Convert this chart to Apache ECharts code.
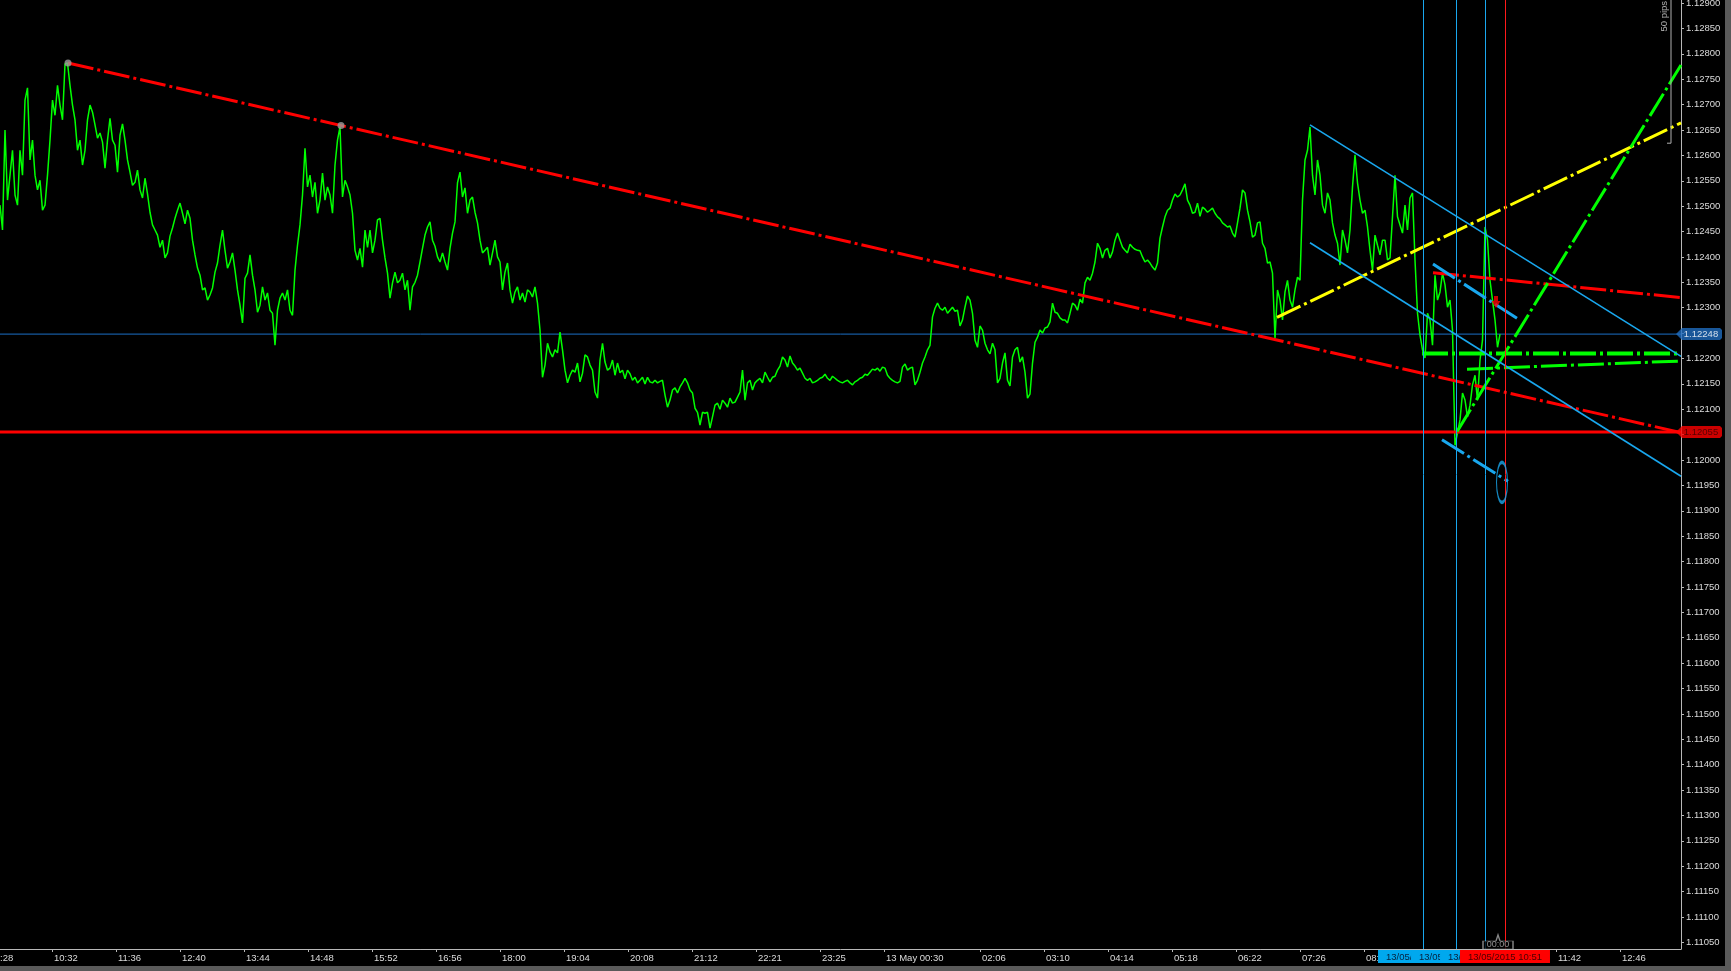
<!DOCTYPE html>
<html><head><meta charset="utf-8">
<script src="https://cdn.jsdelivr.net/npm/echarts@6/dist/echarts.min.js"></script>
<style>
html,body{margin:0;padding:0;background:#5a5a5a;width:1731px;height:971px;overflow:hidden}
#c{position:absolute;left:0;top:0;width:1725px;height:966px;background:#000}
</style></head><body><div id="c"></div>
<script>
// ---- data (bar index ~ 1 minute per bar, EURUSD close) ----
const sampleStep = 5;          // bars between samples in closeA
// closes read at bars 0,5,10,...,1500
const closeA = [
1.12502,1.12650,1.12561,1.12522,1.12610,1.12709,1.12591,1.12561,1.12551,1.12502,
1.12630,1.12679,1.12699,1.12780,1.12738,1.12670,1.12630,1.12610,1.12699,1.12660,
1.12644,1.12575,1.12673,1.12620,1.12640,1.12630,1.12567,1.12547,1.12532,1.12555,
1.12488,1.12453,1.12419,1.12398,1.12441,1.12476,1.12506,1.12465,1.12476,1.12404,
1.12364,1.12339,1.12325,1.12370,1.12423,1.12413,1.12390,1.12374,1.12305,1.12358,
1.12404,1.12335,1.12305,1.12315,1.12295,1.12226,1.12319,1.12315,1.12295,1.12374,
1.12463,1.12614,1.12561,1.12547,1.12512,1.12512,1.12522,1.12581,1.12656,1.12551,
1.12522,1.12413,1.12417,1.12453,1.12453,1.12433,1.12476,1.12398,1.12319,1.12370,
1.12354,1.12335,1.12295,1.12350,1.12390,1.12443,1.12469,1.12421,1.12390,1.12390,
1.12417,1.12469,1.12567,1.12536,1.12512,1.12488,1.12433,1.12413,1.12384,1.12433,
1.12390,1.12370,1.12335,1.12331,1.12315,1.12311,1.12331,1.12341,1.12256,1.12187,
1.12213,1.12217,1.12252,1.12177,1.12167,1.12173,1.12154,1.12207,1.12187,1.12134,
1.12197,1.12193,1.12181,1.12167,1.12172,1.12160,1.12170,1.12163,1.12157,1.12150,
1.12154,1.12157,1.12155,1.12128,1.12118,1.12142,1.12144,1.12161,1.12138,1.12102,
1.12069,1.12092,1.12063,1.12108,1.12100,1.12112,1.12122,1.12114,1.12134,1.12118,
1.12157,1.12152,1.12161,1.12173,1.12154,1.12165,1.12185,1.12197,1.12205,1.12185,
1.12181,1.12161,1.12161,1.12154,1.12161,1.12169,1.12157,1.12161,1.12154,1.12155,
1.12152,1.12154,1.12161,1.12169,1.12173,1.12177,1.12175,1.12181,1.12161,1.12154,
1.12155,1.12189,1.12181,1.12148,1.12173,1.12203,1.12226,1.12299,1.12299,1.12301,
1.12295,1.12293,1.12264,1.12301,1.12315,1.12236,1.12264,1.12230,1.12209,1.12217,
1.12161,1.12211,1.12146,1.12217,1.12193,1.12173,1.12130,1.12232,1.12256,1.12260,
1.12272,1.12291,1.12280,1.12276,1.12289,1.12305,1.12317,1.12349,1.12354,1.12390,
1.12417,1.12413,1.12398,1.12433,1.12433,1.12413,1.12425,1.12415,1.12412,1.12390,
1.12388,1.12374,1.12437,1.12479,1.12496,1.12524,1.12522,1.12544,1.12502,1.12488,
1.12480,1.12494,1.12492,1.12486,1.12475,1.12463,1.12461,1.12439,1.12496,1.12526,
1.12469,1.12443,1.12469,1.12417,1.12390,1.12240,1.12315,1.12331,1.12315,1.12335,
1.12354,1.12591,1.12656,1.12522,1.12561,1.12486,1.12512,1.12443,1.12384,1.12433,
1.12453,1.12601,1.12512,1.12492,1.12413,1.12443,1.12404,1.12433,1.12398,1.12561,
1.12463,1.12502,1.12516,1.12394,1.12246,1.12201,1.12276,1.12364,1.12331,1.12345,
1.12315,1.12029,1.12079,1.12118,1.12108,1.12167,1.12197,1.12459,1.12354,1.12276,
1.12248
];
// closes read half-way between them (bars 2.5, 7.5, ...)
const closeB = [
1.12453,1.12512,1.12610,1.12502,1.12561,1.12733,1.12630,1.12532,1.12492,1.12561,
1.12709,1.12738,1.12670,1.12782,1.12699,1.12610,1.12581,1.12670,1.12685,1.12634,
1.12626,1.12630,1.12630,1.12567,1.12662,1.12591,1.12541,1.12571,1.12516,1.12524,
1.12463,1.12443,1.12433,1.12408,1.12457,1.12492,1.12486,1.12492,1.12433,1.12378,
1.12335,1.12315,1.12339,1.12388,1.12453,1.12378,1.12408,1.12335,1.12270,1.12368,
1.12364,1.12291,1.12341,1.12329,1.12289,1.12295,1.12329,1.12335,1.12285,1.12423,
1.12522,1.12538,1.12518,1.12486,1.12565,1.12538,1.12486,1.12630,1.12518,1.12538,
1.12486,1.12394,1.12380,1.12419,1.12408,1.12473,1.12433,1.12368,1.12349,1.12349,
1.12368,1.12354,1.12341,1.12364,1.12417,1.12459,1.12433,1.12400,1.12408,1.12374,
1.12447,1.12546,1.12518,1.12486,1.12518,1.12467,1.12408,1.12419,1.12408,1.12400,
1.12335,1.12388,1.12309,1.12341,1.12329,1.12335,1.12321,1.12309,1.12163,1.12230,
1.12203,1.12211,1.12217,1.12152,1.12177,1.12191,1.12171,1.12203,1.12177,1.12122,
1.12230,1.12177,1.12197,1.12191,1.12177,1.12177,1.12157,1.12152,1.12163,1.12163,
1.12152,1.12152,1.12157,1.12104,1.12138,1.12132,1.12152,1.12152,1.12132,1.12094,
1.12094,1.12094,1.12085,1.12112,1.12118,1.12104,1.12112,1.12124,1.12177,1.12152,
1.12138,1.12157,1.12152,1.12163,1.12163,1.12177,1.12203,1.12183,1.12191,1.12177,
1.12171,1.12157,1.12152,1.12157,1.12163,1.12161,1.12165,1.12157,1.12152,1.12157,
1.12148,1.12157,1.12163,1.12167,1.12179,1.12181,1.12183,1.12167,1.12157,1.12152,
1.12183,1.12177,1.12183,1.12157,1.12191,1.12217,1.12282,1.12309,1.12295,1.12289,
1.12301,1.12295,1.12276,1.12323,1.12289,1.12222,1.12256,1.12217,1.12230,1.12152,
1.12191,1.12157,1.12203,1.12222,1.12203,1.12122,1.12191,1.12242,1.12250,1.12262,
1.12309,1.12289,1.12276,1.12270,1.12309,1.12295,1.12309,1.12360,1.12368,1.12427,
1.12398,1.12417,1.12410,1.12447,1.12419,1.12408,1.12419,1.12413,1.12400,1.12394,
1.12380,1.12388,1.12459,1.12492,1.12512,1.12518,1.12532,1.12512,1.12486,1.12506,
1.12498,1.12488,1.12496,1.12479,1.12467,1.12459,1.12447,1.12467,1.12532,1.12492,
1.12439,1.12467,1.12427,1.12388,1.12368,1.12335,1.12276,1.12354,1.12301,1.12360,
1.12512,1.12610,1.12561,1.12591,1.12502,1.12526,1.12467,1.12427,1.12453,1.12408,
1.12538,1.12546,1.12486,1.12459,1.12374,1.12423,1.12433,1.12394,1.12479,1.12479,
1.12447,1.12453,1.12526,1.12289,1.12217,1.12289,1.12226,1.12315,1.12368,1.12301,
1.12256,1.12053,1.12132,1.12085,1.12148,1.12118,1.12236,1.12433,1.12315,1.12222
];

const xTickBars = [52,116,180,244,308,372,436,500,564,628,692,756,820,884,980,1044,1108,1172,1236,1300,1364,1428,1492,1556,1620];
const xTickLabels = ['10:32','11:36','12:40','13:44','14:48','15:52','16:56','18:00','19:04','20:08','21:12','22:21','23:25','13 May 00:30','02:06','03:10','04:14','05:18','06:22','07:26','08:30','09:34','10:38','11:42','12:46'];

const yTickValues = [1.1105,1.1110,1.1115,1.1120,1.1125,1.1130,1.1135,1.1140,1.1145,1.1150,1.1155,1.1160,1.1165,1.1170,1.1175,1.1180,1.1185,1.1190,1.1195,1.1200,1.1205,1.1210,1.1215,1.1220,1.1225,1.1230,1.1235,1.1240,1.1245,1.1250,1.1255,1.1260,1.1265,1.1270,1.1275,1.1280,1.1285,1.1290];
const yLabelValues = yTickValues.filter(v => v !== 1.1205 && v !== 1.1225);

const xMax = 1681;
const yMin = 1.11037, yMax = 1.12906;

const bidPrice = 1.12248;
const supportLevel = 1.12055;

const redTrendLong = [[68,1.12782],[1681,1.12054]];
const redTrendAnchors = [[68,1.12782],[341,1.12659]];
const redTrendShort = [[1433,1.12369],[1681,1.12320]];
const yellowTrend = [[1277,1.12281],[1681,1.12664]];
const greenSteep = [[1457,1.12056],[1681,1.12778]];
const greenFlat = [[1422,1.12210],[1681,1.12210]];
const greenRising = [[1467,1.12179],[1681,1.12195]];
const channelUpper = [[1310,1.12660],[1681,1.12204]];
const channelLower = [[1310,1.12428],[1681,1.11968]];
const blueShortUpper = [[1433,1.12386],[1517,1.12279]];
const blueShortLower = [[1442,1.12040],[1508,1.11958]];
const ellipseMark = [[1502,1.11956]];
const sellArrow = [[1496,1.12311]];
const pipsRuler = [[1667,1.12624],[1671,1.12624],[1671,1.13124]];
const pipsRulerText = [[1664,1.12874]];
const shiftMarker = [[1498,1.11037]];

const vLinesBlue = [{bar:1423,label:'13/05/2015 09:28'},{bar:1456,label:'13/05/2015 10:01'},{bar:1485,label:'13/05/2015 10:30'}];
const vLineRed = {bar:1505,label:'13/05/2015 10:51'};

// ---- build close series ----
const closeSeries = [];
closeA.forEach((v,i)=>{
  closeSeries.push([i*sampleStep, v]);
  if (i < closeB.length) closeSeries.push([i*sampleStep + sampleStep/2, closeB[i]]);
});

// ---- styles ----
const FONT = "'Liberation Sans',Arial,sans-serif";
const FS = 9.5;
const AX = '#b8b8b8', TXT = '#dcdcdc';
const DASHDOT = [26,4,3,4];
const SKY = '#19a7ee';

function seg(name, data, color, width, type, z){
  return {type:'line', name, data, symbol:'none', silent:true, z: z||3,
    lineStyle:{color, width, type: type||'solid', cap:'butt'}, emphasis:{disabled:true}};
}
const labelMap = new Map(xTickBars.map((b,i)=>[b, xTickLabels[i]]));

const chart = echarts.init(document.getElementById('c'), null, {renderer:'canvas'});
chart.setOption({
  backgroundColor:'#000',
  animation:false,
  grid:{left:0, right:44, top:0, bottom:17, containLabel:false, outerBoundsMode:'none'},
  xAxis:{type:'value', min:0, max:xMax, position:'bottom',
    axisLine:{show:true,onZero:false,lineStyle:{color:AX,width:1}},
    axisTick:{show:true,customValues:xTickBars,length:3,lineStyle:{color:AX}},
    axisLabel:{show:true,customValues:xTickBars,formatter:v=>labelMap.get(v)||'',align:'left',margin:4,
      padding:[0,0,0,2],color:TXT,fontSize:FS,fontFamily:FONT},
    splitLine:{show:false}},
  yAxis:{type:'value', position:'right', min:yMin, max:yMax,
    axisLine:{show:true,onZero:false,lineStyle:{color:AX,width:1}},
    axisTick:{show:true,customValues:yTickValues,length:3,lineStyle:{color:AX}},
    axisLabel:{show:true,customValues:yLabelValues,formatter:v=>v.toFixed(5),margin:5,color:TXT,fontSize:FS,fontFamily:FONT},
    splitLine:{show:false}},
  graphic:[{type:'text',left:0,top:953,style:{text:':28',fill:TXT,font:FS+"px "+FONT}}],
  series:[
    {type:'line', name:'vblue', data:[], z:1, silent:true,
      markLine:{symbol:'none', silent:true, animation:false,
        lineStyle:{color:SKY,width:1,type:'solid'},
        label:{show:true,position:'start',distance:1,color:'#06213d',backgroundColor:'#00a8ee',
          padding:[2,8,1,8],fontSize:FS,fontFamily:FONT},
        data:vLinesBlue.map(d=>({xAxis:d.bar,label:{formatter:d.label}}))}},
    seg('bid', [[0,bidPrice],[xMax,bidPrice]], '#1b6fc6', 1, 'solid', 1),
    {type:'line', name:'EURUSD', data:closeSeries, symbol:'none', z:2, silent:true,
      lineStyle:{color:'#00ff00', width:1.5}},
    seg('support', [[0,supportLevel],[xMax,supportLevel]], '#ff0000', 3, 'solid', 3),
    {type:'line', name:'vred', data:[], z:4, silent:true,
      markLine:{symbol:'none', silent:true, animation:false,
        lineStyle:{color:'#ff1a1a',width:1,type:'solid'},
        label:{show:true,position:'start',distance:1,color:'#4a0000',backgroundColor:'#ff0000',
          padding:[2,8,1,8],fontSize:FS,fontFamily:FONT},
        data:[{xAxis:vLineRed.bar,label:{formatter:vLineRed.label}}]}},
    seg('redTrendLong', redTrendLong, '#ff0000', 3, DASHDOT),
    seg('redTrendShort', redTrendShort, '#ff0000', 3, DASHDOT),
    seg('yellowTrend', yellowTrend, '#ffff00', 3, DASHDOT),
    seg('greenSteep', greenSteep, '#00ff00', 3, DASHDOT),
    seg('greenFlat', greenFlat, '#00ff00', 4, DASHDOT),
    seg('greenRising', greenRising, '#00ff00', 3, DASHDOT),
    seg('channelUpper', channelUpper, SKY, 1.6),
    seg('channelLower', channelLower, SKY, 1.6),
    seg('blueShortUpper', blueShortUpper, SKY, 3, DASHDOT),
    seg('blueShortLower', blueShortLower, SKY, 3, DASHDOT),
    seg('pipsRuler', pipsRuler, '#b0b0b0', 1, 'solid'),
    {type:'scatter', name:'anchors', data:redTrendAnchors, symbol:'circle', symbolSize:7, z:5, silent:true,
      itemStyle:{color:'#9c9c9c'}},
    {type:'scatter', name:'ellipse', data:ellipseMark, symbol:'circle', symbolSize:[11,40], z:5, silent:true,
      itemStyle:{color:'rgba(0,0,0,0)',borderColor:SKY,borderWidth:2}},
    {type:'scatter', name:'arrow', data:sellArrow, symbol:'path://M2.5,0L6.5,0L6.5,5L9,5L4.5,12L0,5L2.5,5Z',
      symbolSize:[9,12], z:5, silent:true, itemStyle:{color:'#ff0000'}},
    {type:'scatter', name:'pipsText', data:pipsRulerText, symbolSize:0, z:5, silent:true, clip:false,
      label:{show:true,position:'inside',rotate:90,formatter:'50 pips',color:TXT,fontSize:FS,fontFamily:FONT}},
    {type:'scatter', name:'shift', data:shiftMarker, clip:false, z:5, silent:true,
      symbol:'path://M0,6L13,6L15,0L17,6L30,6L30,14L0,14Z', symbolSize:[30,14], symbolOffset:[0,-7],
      itemStyle:{color:'#000',borderColor:'#a8a8a8',borderWidth:1},
      label:{show:true,position:'inside',offset:[0,3],formatter:'00:00',color:'#b4b4b4',fontSize:9,fontFamily:FONT}},
    {type:'scatter', name:'tags', clip:false, z:6, silent:true,
      symbol:'path://M0,6L6,0L44,0L46,2L46,10L44,12L6,12Z', symbolSize:[46,12], symbolOffset:[18,0],
      data:[
        {value:[xMax,bidPrice], itemStyle:{color:'#1f6dbf'}, label:{color:'#ffffff'}},
        {value:[xMax,supportLevel], itemStyle:{color:'#ff0000'}, label:{color:'#3a0000'}}
      ],
      label:{show:true,position:'inside',offset:[2,0],formatter:p=>p.value[1].toFixed(5),fontSize:FS,fontFamily:FONT}}
  ]
});
</script></body></html>
